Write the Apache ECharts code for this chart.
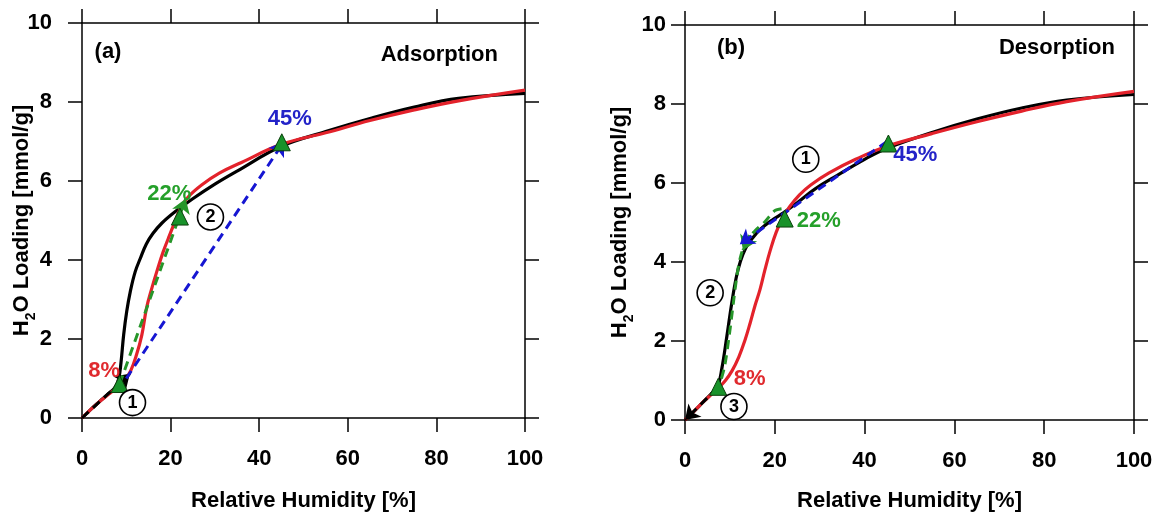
<!DOCTYPE html>
<html><head><meta charset="utf-8">
<script src="https://cdn.jsdelivr.net/npm/echarts@6/dist/echarts.min.js"></script>
<style>html,body{margin:0;padding:0;background:#fff}#c{width:1161px;height:517px}</style>
</head><body><div id="c"></div>
<script>
// ---------- data ----------
const adsBlackRH = [0, 2, 4, 6, 7.5, 8.3, 8.8, 9.4, 10.1, 10.9, 12.0, 13.2, 14.5, 16, 18, 21, 25, 30, 35, 45, 55, 65, 75, 85, 100];
const adsBlack   = [0, 0.22, 0.42, 0.62, 0.78, 1.0, 1.4, 2.1, 2.7, 3.2, 3.7, 4.05, 4.4, 4.67, 4.93, 5.22, 5.55, 5.92, 6.25, 6.88, 7.25, 7.58, 7.87, 8.09, 8.22];
const adsRedRH   = [0, 2, 4, 6, 8, 9.5, 11, 12.3, 13.5, 14.6, 15.8, 17, 18.3, 19.5, 20.8, 22.2, 24, 27, 31, 36, 45, 55, 65, 75, 85, 100];
const adsRed     = [0, 0.22, 0.42, 0.6, 0.78, 0.93, 1.2, 1.6, 2.1, 2.8, 3.3, 3.75, 4.2, 4.55, 4.92, 5.3, 5.6, 5.9, 6.2, 6.47, 6.93, 7.22, 7.53, 7.8, 8.03, 8.3];

const desBlackRH = [0, 2, 4, 6, 7.3, 8.2, 9.3, 10.4, 11.4, 12.3, 13.5, 15, 17, 19.5, 22, 25, 29, 34, 40, 45, 55, 65, 75, 85, 100];
const desBlack   = [0, 0.22, 0.45, 0.68, 0.85, 1.3, 2.1, 2.95, 3.6, 4.0, 4.35, 4.6, 4.85, 5.07, 5.25, 5.5, 5.85, 6.2, 6.6, 6.88, 7.28, 7.62, 7.9, 8.1, 8.24];
const desRedRH   = [0, 2, 4, 6, 7.5, 9, 10.5, 12, 13.3, 14.5, 15.6, 16.7, 17.8, 19, 20.3, 21.7, 23.3, 25.5, 28, 32, 38, 45, 55, 65, 75, 85, 100];
const desRed     = [0, 0.22, 0.45, 0.66, 0.82, 1.0, 1.25, 1.6, 2.0, 2.45, 2.9, 3.3, 3.8, 4.3, 4.75, 5.1, 5.4, 5.7, 5.95, 6.25, 6.6, 6.93, 7.25, 7.55, 7.82, 8.06, 8.32];

// marked humidity points (triangles)
const adsMarks = [[8.5, 0.86], [22.1, 5.1], [45.1, 6.98]];
const desMarks = [[7.4, 0.84], [22.2, 5.1], [45.3, 7.0]];

// dashed step arrows
const adsArrowBlack = [[0, 0], [10.8, 1.12]];
const adsArrowGreen = [[8.5, 0.86], [23.4, 5.55]];
const adsArrowBlue  = [[10, 1.0], [45.6, 7.0]];
const desArrowBlue  = [[45, 7.05], [12.2, 4.45]];
const desGreenPathRH = [21.5, 20, 17.8, 15.5, 13.6, 12.3, 11.5, 10.7, 9.8, 8.8, 7.6];
const desGreenPath   = [5.35, 5.3, 5.02, 4.78, 4.52, 4.1, 3.6, 2.9, 2.1, 1.35, 0.85];
const desArrowGreen = [[14.4, 4.68], [12.9, 4.3]];
const desArrowBlack = [[7.3, 0.82], [0, 0]];

// annotations
const pctLabels = ['8%', '22%', '45%'];
const adsPctPos = [[5.0, 1.2], [19.7, 5.68], [46.9, 7.56]];
const desPctPos = [[14.4, 1.03], [29.8, 5.03], [51.3, 6.71]];
const adsStepNames = ['1', '2'];
const adsStepPos = [[11.4, 0.39], [29.0, 5.09]];
const desStepNames = ['1', '2', '3'];
const desStepPos = [[26.9, 6.6], [5.6, 3.22], [10.9, 0.34]];

const xName = 'Relative Humidity [%]';
const yNameRich = '{a|H}{s|2}{a|O Loading [mmol/g]}';

// ---------- styling ----------
const FONT = 'Liberation Sans, Arial, sans-serif';
const RED = '#e3222b', BLACK = '#000', GREEN = '#27962a', BLUE = '#1616d2';
const pctColors = ['#e02a2e', '#25a02a', '#2323c8'];

const zip = (xs, ys) => xs.map((x, i) => [x, ys[i]]);

function xAxes(grid, top, gap) {
  return {
    gridIndex: grid, type: 'value', min: 0, max: 100, interval: 20,
    position: top ? 'top' : 'bottom',
    name: top ? '' : xName, nameLocation: 'middle', nameGap: gap, nameMoveOverlap: false,
    nameTextStyle: { fontFamily: FONT, fontSize: 22, fontWeight: 'bold', color: '#000' },
    axisLine: { show: true, onZero: false, lineStyle: { color: '#000', width: 1.5 } },
    axisTick: { show: true, inside: false, length: 14, lineStyle: { color: '#000', width: 1.5 } },
    axisLabel: { show: !top, margin: 30, fontFamily: FONT, fontSize: 22, fontWeight: 'bold', color: '#000' },
    splitLine: { show: false }
  };
}
function yAxes(grid, right, gap, margin) {
  return {
    gridIndex: grid, type: 'value', min: 0, max: 10, interval: 2,
    position: right ? 'right' : 'left',
    name: right ? '' : yNameRich, nameLocation: 'middle', nameGap: gap, nameRotate: 90, nameMoveOverlap: false,
    nameTextStyle: {
      color: '#000',
      rich: {
        a: { fontFamily: FONT, fontSize: 22, fontWeight: 'bold', color: '#000', lineHeight: 26 },
        s: { fontFamily: FONT, fontSize: 14, fontWeight: 'bold', color: '#000', lineHeight: 26, verticalAlign: 'bottom', padding: [0, 0, -3, 0] }
      }
    },
    axisLine: { show: true, onZero: false, lineStyle: { color: '#000', width: 1.5 } },
    axisTick: { show: true, inside: false, length: 14, lineStyle: { color: '#000', width: 1.5 } },
    axisLabel: { show: !right, margin: margin, fontFamily: FONT, fontSize: 22, fontWeight: 'bold', color: '#000' },
    splitLine: { show: false }
  };
}

function curve(idx, data, color, z) {
  return { type: 'line', xAxisIndex: idx, yAxisIndex: idx, data: data, smooth: 0.4,
    showSymbol: false, symbol: 'none', lineStyle: { color: color, width: 3.2 }, z: z, silent: true };
}
function arrow(idx, coords, color, z) {
  return { type: 'lines', coordinateSystem: 'cartesian2d', xAxisIndex: idx, yAxisIndex: idx,
    symbol: ['none', 'arrow'], symbolSize: 14,
    lineStyle: { color: color, width: 3, type: [9, 6], opacity: 1 },
    data: [{ coords: coords }], z: z, silent: true };
}
function dashedPath(idx, data, color, z) {
  return { type: 'line', xAxisIndex: idx, yAxisIndex: idx, data: data, smooth: 0.3,
    showSymbol: false, symbol: 'none', lineStyle: { color: color, width: 3, type: [9, 6] }, z: z, silent: true };
}
function triangles(idx, pts) {
  return { type: 'scatter', xAxisIndex: idx, yAxisIndex: idx, data: pts, symbol: 'triangle', symbolSize: 17,
    itemStyle: { color: '#18922a', borderColor: '#0b3f0b', borderWidth: 1, opacity: 1 }, z: 10, silent: true };
}
function pctText(idx, pos) {
  return { type: 'scatter', xAxisIndex: idx, yAxisIndex: idx, symbolSize: 1,
    itemStyle: { color: 'rgba(0,0,0,0)', opacity: 1 }, z: 12, silent: true,
    data: pos.map((p, i) => ({ value: p, name: pctLabels[i],
      label: { show: true, position: 'inside', formatter: '{b}', color: pctColors[i], opacity: 1,
        fontFamily: FONT, fontSize: 22, fontWeight: 'bold' } })) };
}
function stepCircles(idx, pos, names) {
  return { type: 'scatter', xAxisIndex: idx, yAxisIndex: idx, symbol: 'circle', symbolSize: 26,
    itemStyle: { color: '#fff', borderColor: '#000', borderWidth: 1.6, opacity: 1 }, z: 11, silent: true,
    data: pos.map((p, i) => ({ value: p, name: names[i] })),
    label: { show: true, position: 'inside', formatter: '{b}', color: '#000', fontFamily: FONT, fontSize: 18, fontWeight: 'bold' } };
}

const option = {
  animation: false,
  backgroundColor: '#fff',
  grid: [
    { left: 82, top: 23, width: 443, height: 395, containLabel: false },
    { left: 685, top: 25, width: 449, height: 396, containLabel: false }
  ],
  xAxis: [xAxes(0, false, 72), xAxes(0, true, 0), xAxes(1, false, 70), xAxes(1, true, 0)],
  yAxis: [yAxes(0, false, 47, 30), yAxes(0, true, 0, 0), yAxes(1, false, 52, 19), yAxes(1, true, 0, 0)],
  graphic: [
    { type: 'text', style: { x: 108, y: 52, text: '(a)', align: 'center', verticalAlign: 'middle', fontFamily: FONT, fontSize: 22, fontWeight: 'bold', fill: '#000' } },
    { type: 'text', style: { x: 498, y: 55, text: 'Adsorption', align: 'right', verticalAlign: 'middle', fontFamily: FONT, fontSize: 22, fontWeight: 'bold', fill: '#000' } },
    { type: 'text', style: { x: 731, y: 48, text: '(b)', align: 'center', verticalAlign: 'middle', fontFamily: FONT, fontSize: 22, fontWeight: 'bold', fill: '#000' } },
    { type: 'text', style: { x: 1115, y: 48, text: 'Desorption', align: 'right', verticalAlign: 'middle', fontFamily: FONT, fontSize: 22, fontWeight: 'bold', fill: '#000' } }
  ],
  series: [
    curve(0, zip(adsBlackRH, adsBlack), BLACK, 2),
    curve(0, zip(adsRedRH, adsRed), RED, 3),
    arrow(0, adsArrowBlack, BLACK, 5),
    arrow(0, adsArrowGreen, GREEN, 6),
    arrow(0, adsArrowBlue, BLUE, 7),
    triangles(0, adsMarks),
    pctText(0, adsPctPos),
    stepCircles(0, adsStepPos, adsStepNames),

    curve(2, zip(desBlackRH, desBlack), BLACK, 2),
    curve(2, zip(desRedRH, desRed), RED, 3),
    dashedPath(2, zip(desGreenPathRH, desGreenPath), GREEN, 5),
    arrow(2, desArrowGreen, GREEN, 6),
    arrow(2, desArrowBlue, BLUE, 7),
    arrow(2, desArrowBlack, BLACK, 5),
    triangles(2, desMarks),
    pctText(2, desPctPos),
    stepCircles(2, desStepPos, desStepNames)
  ]
};
const chart = echarts.init(document.getElementById('c'), null, { renderer: 'canvas' });
chart.setOption(option);
</script>
</body></html>
